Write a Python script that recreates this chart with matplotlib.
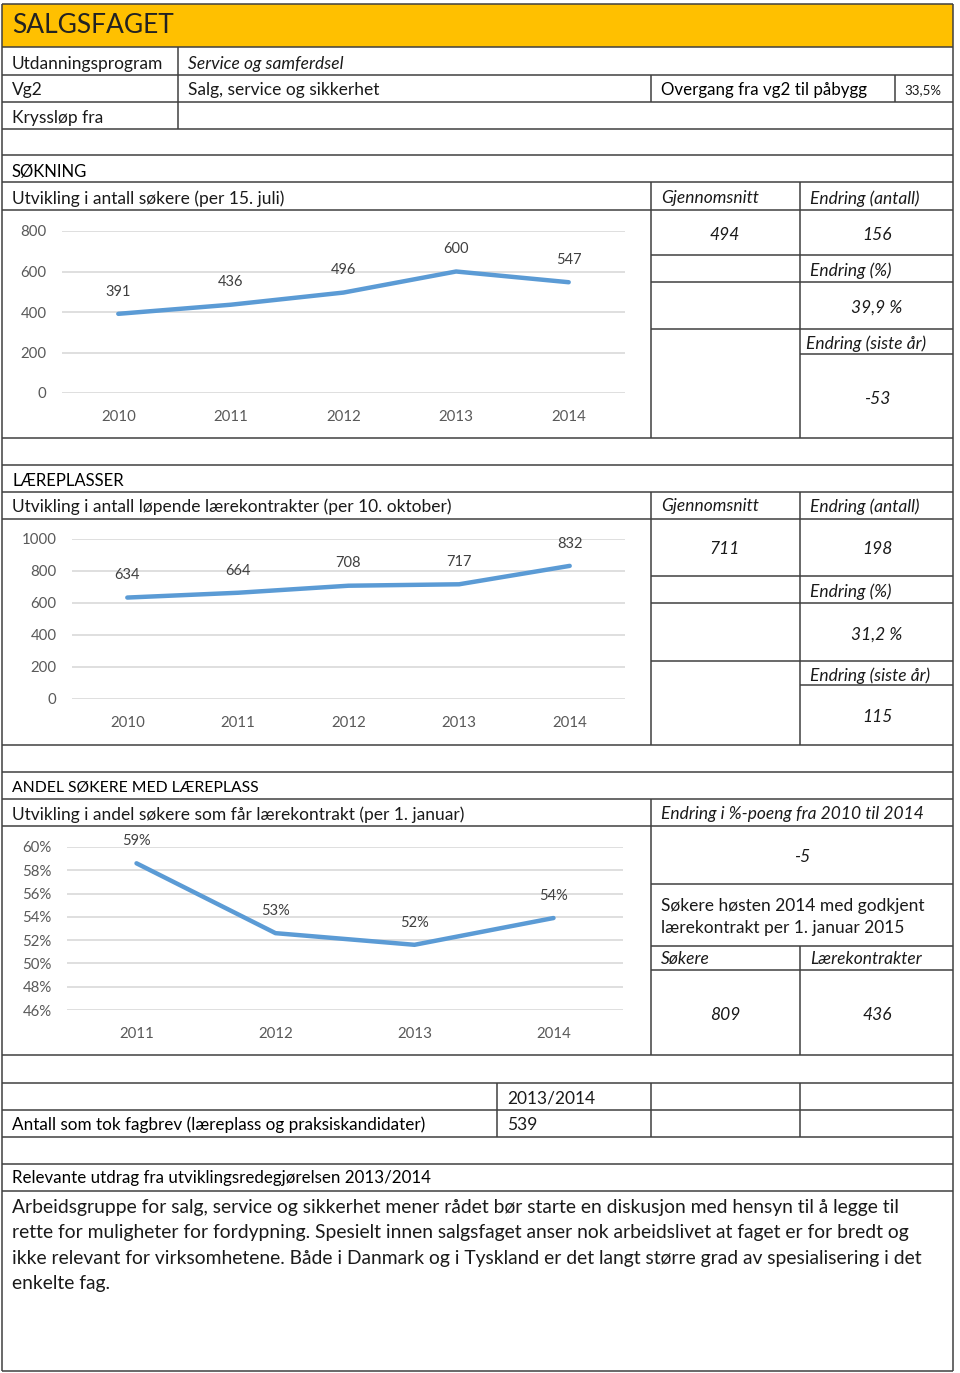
#!/usr/bin/env python3
"""Salgsfaget fact sheet: table layout with three small line charts."""

import numpy as np
import matplotlib
matplotlib.use("Agg")
import matplotlib.pyplot as plt
from matplotlib.patches import Rectangle

W, H = 960, 1373

# chart data
years_sok = ["2010", "2011", "2012", "2013", "2014"]
sokere = [391, 436, 496, 600, 547]

years_lk = ["2010", "2011", "2012", "2013", "2014"]
kontrakter = [634, 664, 708, 717, 832]

years_andel = ["2011", "2012", "2013", "2014"]
andel = [0.586, 0.526, 0.516, 0.539]

# key figures
sok_snitt, sok_endr, sok_pct, sok_siste = "494", "156", "39,9 %", "-53"
lk_snitt, lk_endr, lk_pct, lk_siste = "711", "198", "31,2 %", "115"
andel_endr, hosten_sokere, hosten_kontr = "-5", "809", "436"
fagbrev_aar, fagbrev_antall = "2013/2014", "539"
overgang = "33,5%"

paragraph = [
    "Arbeidsgruppe for salg, service og sikkerhet mener rådet bør starte en diskusjon med hensyn til å legge til",
    "rette for muligheter for fordypning. Spesielt innen salgsfaget anser nok arbeidslivet at faget er for bredt og",
    "ikke relevant for virksomhetene. Både i Danmark og i Tyskland er det langt større grad av spesialisering i det",
    "enkelte fag.",
]

BLUE = "#5B9BD5"
GRID = "#D9D9D9"
TICK = "#595959"
BORDER = "#404040"
TXT = "#1a1a1a"
FONT = ["Lato", "DejaVu Sans"]

plt.rcParams["font.family"] = FONT

fig = plt.figure(figsize=(W / 100, H / 100), dpi=100)
bg = fig.add_axes([0, 0, 1, 1])
bg.set_xlim(0, W)
bg.set_ylim(H, 0)
bg.axis("off")


def hl(y, x0=2, x1=953):
    bg.plot([x0, x1], [y, y], color=BORDER, lw=1.1, solid_capstyle="butt")


def vl(x, y0, y1):
    bg.plot([x, x], [y0, y1], color=BORDER, lw=1.1, solid_capstyle="butt")


def txt(x, y, s, ha="left", size=12.5, style="normal", color=TXT):
    bg.text(x, y + 1.5, s, ha=ha, va="center", fontsize=size, fontstyle=style,
            color=color)


# header band
bg.add_patch(Rectangle((2, 4), 951, 43, facecolor="#FFC000", edgecolor="none"))
txt(12, 24, "SALGSFAGET", size=19, color="#222222")

for y in [4, 47, 75, 102, 129, 155, 182, 210, 438, 465, 492, 519, 745, 772, 799,
          826, 1055, 1083, 1110, 1137, 1164, 1191, 1371]:
    hl(y)
vl(2, 4, 1371)
vl(953, 4, 1371)

# top info rows
vl(178, 47, 129)
vl(651, 75, 102)
vl(895, 75, 102)
txt(12, 62, "Utdanningsprogram")
txt(188, 62, "Service og samferdsel", style="italic")
txt(12, 89, "Vg2")
txt(188, 89, "Salg, service og sikkerhet")
txt(661, 89, "Overgang fra vg2 til påbygg", size=12.2, color="black")
txt(904, 89, overgang, size=9.5)
txt(12, 116, "Kryssløp fra")

# SØKNING
txt(12, 170, "SØKNING", size=12, color="black")
txt(12, 197, "Utvikling i antall søkere (per 15. juli)")
vl(651, 182, 438)
vl(800, 182, 438)
for y in [255, 282, 329]:
    hl(y, 651, 953)
hl(354, 800, 953)
txt(661, 197, "Gjennomsnitt", style="italic")
txt(810, 197, "Endring (antall)", style="italic")
txt(725, 233, sok_snitt, ha="center", style="italic")
txt(877, 233, sok_endr, ha="center", style="italic")
txt(810, 269, "Endring (%)", style="italic")
txt(877, 306, sok_pct, ha="center", style="italic")
txt(806, 342, "Endring (siste år)", style="italic")
txt(877, 397, sok_siste, ha="center", style="italic")

# LÆREPLASSER
txt(12, 479, "LÆREPLASSER", size=12, color="black")
txt(12, 505, "Utvikling i antall løpende lærekontrakter (per 10. oktober)")
vl(651, 492, 745)
vl(800, 492, 745)
for y in [576, 603, 661]:
    hl(y, 651, 953)
hl(685, 800, 953)
txt(661, 505, "Gjennomsnitt", style="italic")
txt(810, 505, "Endring (antall)", style="italic")
txt(725, 548, lk_snitt, ha="center", style="italic")
txt(877, 548, lk_endr, ha="center", style="italic")
txt(810, 590, "Endring (%)", style="italic")
txt(877, 633, lk_pct, ha="center", style="italic")
txt(810, 674, "Endring (siste år)", style="italic")
txt(877, 716, lk_siste, ha="center", style="italic")

# ANDEL SØKERE MED LÆREPLASS
txt(12, 786, "ANDEL SØKERE MED LÆREPLASS", size=11.3, color="black")
txt(12, 813, "Utvikling i andel søkere som får lærekontrakt (per 1. januar)")
vl(651, 799, 1055)
vl(800, 946, 1055)
for y in [884, 946, 970]:
    hl(y, 651, 953)
txt(661, 813, "Endring i %-poeng fra 2010 til 2014", style="italic")
txt(802, 856, andel_endr, ha="center", style="italic")
txt(661, 904, "Søkere høsten 2014 med godkjent")
txt(661, 927, "lærekontrakt per 1. januar 2015")
txt(661, 958, "Søkere", style="italic")
txt(810, 958, "Lærekontrakter", style="italic")
txt(725, 1013, hosten_sokere, ha="center", style="italic")
txt(877, 1013, hosten_kontr, ha="center", style="italic")

# fagbrev
for x in [497, 651, 800]:
    vl(x, 1083, 1137)
txt(507, 1097, fagbrev_aar)
txt(12, 1123, "Antall som tok fagbrev (læreplass og praksiskandidater)", size=12.3, color="black")
txt(507, 1123, fagbrev_antall)

# utdrag
txt(12, 1177, "Relevante utdrag fra utviklingsredegjørelsen 2013/2014", size=12.2, color="black")
for i, line in enumerate(paragraph):
    txt(12, 1206 + 25.3 * i, line, size=13.9)


def px_axes(x0, y0, x1, y1):
    return fig.add_axes([x0 / W, 1 - y1 / H, (x1 - x0) / W, (y1 - y0) / H])


def line_chart(rect, cats, vals, ymin, ymax, step, fmt, ypad):
    ax = px_axes(*rect)
    x = np.arange(len(cats))
    ax.plot(x, vals, color=BLUE, lw=3.2, solid_capstyle="round", zorder=3)
    for xi, v in zip(x, vals):
        ax.annotate(fmt(v), (xi, v), xytext=(0, 16), textcoords="offset points",
                    ha="center", va="center", fontsize=10.5, color="#404040")
    ax.set_xlim(-0.5, len(cats) - 0.5)
    ax.set_ylim(ymin, ymax)
    ticks = np.arange(ymin, ymax + step / 2, step)
    ax.set_yticks(ticks)
    ax.set_yticklabels([fmt(t) for t in ticks])
    ax.set_xticks(x)
    ax.set_xticklabels(cats)
    ax.grid(axis="y", color=GRID, lw=1.2)
    ax.set_axisbelow(True)
    for s in ax.spines.values():
        s.set_visible(False)
    ax.tick_params(axis="both", length=0, labelsize=10.8, labelcolor=TICK)
    ax.tick_params(axis="x", pad=12)
    ax.tick_params(axis="y", pad=ypad)
    ax.patch.set_alpha(0)
    return ax


line_chart((62, 231, 625, 393), years_sok, sokere, 0, 800, 200, lambda v: f"{v:.0f}", 11)
line_chart((72, 539, 625, 699), years_lk, kontrakter, 0, 1000, 200, lambda v: f"{v:.0f}", 11)
line_chart((67, 847, 623, 1010), years_andel, andel, 0.46, 0.60, 0.02,
           lambda v: f"{round(v * 100):.0f}%", 11)

fig.savefig("out.png", dpi=100)
